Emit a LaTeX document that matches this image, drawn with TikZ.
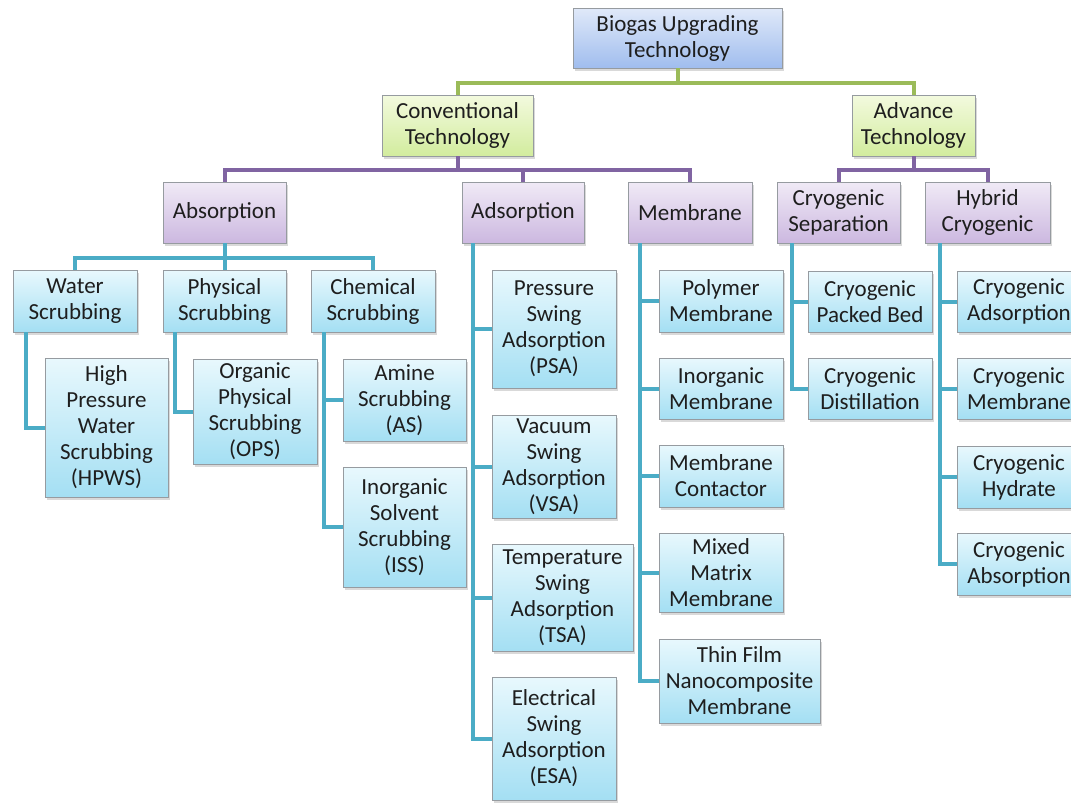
\documentclass[tikz,border=0pt]{standalone}
\usepackage{fontspec}
\setmainfont{Carlito}
\usetikzlibrary{calc,shadows}
\definecolor{RootTop}{RGB}{224,233,249}
\definecolor{RootBot}{RGB}{160,189,238}
\definecolor{GreenTop}{RGB}{243,250,222}
\definecolor{GreenBot}{RGB}{210,236,158}
\definecolor{PurpleTop}{RGB}{240,234,246}
\definecolor{PurpleBot}{RGB}{204,184,224}
\definecolor{TealTop}{RGB}{232,248,253}
\definecolor{TealBot}{RGB}{164,223,243}
\definecolor{BoxEdge}{RGB}{150,155,160}
\definecolor{TextDark}{RGB}{30,30,30}
\definecolor{OliveLine}{RGB}{155,187,89}
\definecolor{PlumLine}{RGB}{128,100,162}
\definecolor{AquaLine}{RGB}{75,172,198}

\begin{document}
\begin{tikzpicture}[x=1pt,y=-1pt,
    box/.style={draw=BoxEdge,line width=0.8pt,align=center,inner sep=0pt,
      text=TextDark,font=\fontsize{23}{26}\selectfont,
      drop shadow={shadow xshift=2pt,shadow yshift=-2.5pt,opacity=0.3}},
    wh/.style 2 args={minimum width=#1pt,minimum height=#2pt},
    rootbox/.style={box,top color=RootTop,bottom color=RootBot},
    greenbox/.style={box,top color=GreenTop,bottom color=GreenBot},
    purplebox/.style={box,top color=PurpleTop,bottom color=PurpleBot},
    tealbox/.style={box,top color=TealTop,bottom color=TealBot},
    greenlink/.style={OliveLine,line width=4pt},
    purplelink/.style={PlumLine,line width=4pt},
    teallink/.style={AquaLine,line width=4pt}]
  \useasboundingbox (0,0) rectangle (1071,803);
  \clip (0,0) rectangle (1071,803);
  % top levels
  \node[rootbox,wh={209}{60}] (root) at (677.5,38) {Biogas Upgrading\\Technology};
  \node[greenbox,wh={151}{61}] (conv) at (457.5,125.5) {Conventional\\Technology};
  \node[greenbox,wh={123}{61}] (adv) at (913.5,125.5) {Advance\\Technology};
  \node[purplebox,wh={123}{61}] (absn) at (224.5,212.5) {Absorption};
  \node[purplebox,wh={122}{61}] (adsn) at (523,212.5) {Adsorption};
  \node[purplebox,wh={124}{61}] (memb) at (690,212.5) {Membrane};
  \node[purplebox,wh={123}{61}] (cryosep) at (838.5,212.5) {Cryogenic\\Separation};
  \node[purplebox,wh={125}{61}] (hybrid) at (987.5,212.5) {Hybrid\\Cryogenic};
  % absorption branch
  \node[tealbox,wh={124}{62}] (water) at (75,301) {Water\\Scrubbing};
  \node[tealbox,wh={123}{62}] (physical) at (224.5,301) {Physical\\Scrubbing};
  \node[tealbox,wh={124}{62}] (chemical) at (373,301) {Chemical\\Scrubbing};
  \node[tealbox,wh={123}{139}] (hpws) at (106.5,427.5) {High\\Pressure\\Water\\Scrubbing\\(HPWS)};
  \node[tealbox,wh={124}{105}] (ops) at (255,411.5) {Organic\\Physical\\Scrubbing\\(OPS)};
  \node[tealbox,wh={123}{82}] (amine) at (404.5,400) {Amine\\Scrubbing\\(AS)};
  \node[tealbox,wh={123}{120}] (iss) at (404.5,527) {Inorganic\\Solvent\\Scrubbing\\(ISS)};
  % adsorption branch
  \node[tealbox,wh={124}{118}] (psa) at (554,329) {Pressure\\Swing\\Adsorption\\(PSA)};
  \node[tealbox,wh={124}{103}] (vsa) at (554,466.5) {Vacuum\\Swing\\Adsorption\\(VSA)};
  \node[tealbox,wh={141}{107}] (tsa) at (562.5,597.5) {Temperature\\Swing\\Adsorption\\(TSA)};
  \node[tealbox,wh={124}{123}] (esa) at (554,738.5) {Electrical\\Swing\\Adsorption\\(ESA)};
  % membrane branch
  \node[tealbox,wh={124}{62}] (polymer) at (721,301) {Polymer\\Membrane};
  \node[tealbox,wh={124}{61}] (inorgm) at (721,388.5) {Inorganic\\Membrane};
  \node[tealbox,wh={124}{62}] (contactor) at (721,476) {Membrane\\Contactor};
  \node[tealbox,wh={124}{79}] (mixed) at (721,572.5) {Mixed\\Matrix\\Membrane};
  \node[tealbox,wh={161}{84}] (thinfilm) at (739.5,681) {Thin Film\\Nanocomposite\\Membrane};
  % cryogenic branches
  \node[tealbox,wh={124}{61}] (packed) at (870,301.5) {Cryogenic\\Packed Bed};
  \node[tealbox,wh={124}{61}] (distil) at (870,388.5) {Cryogenic\\Distillation};
  \node[tealbox,wh={124}{61}] (cryads) at (1019,301.5) {Cryogenic\\Adsorption};
  \node[tealbox,wh={124}{61}] (cryomem) at (1019,388.5) {Cryogenic\\Membrane};
  \node[tealbox,wh={124}{62}] (hydrate) at (1019,477) {Cryogenic\\Hydrate};
  \node[tealbox,wh={124}{62}] (cryabs) at (1019,564) {Cryogenic\\Absorption};
  % connectors
  \foreach \c in {conv,adv}
    \draw[greenlink] (root.south) -- ++(0,15) -| (\c.north);
  \foreach \c in {absn,adsn,memb}
    \draw[purplelink] (conv.south) -- ++(0,14) -| (\c.north);
  \foreach \c in {cryosep,hybrid}
    \draw[purplelink] (adv.south) -- ++(0,14) -| (\c.north);
  \foreach \c in {water,physical,chemical}
    \draw[teallink] (absn.south) -- ++(0,15) -| (\c.north);
  \draw[teallink] ($(water.south west)+(13,0)$) |- (hpws.west);
  \draw[teallink] ($(physical.south west)+(12,0)$) |- (ops.west);
  \foreach \c in {amine,iss}
    \draw[teallink] ($(chemical.south west)+(13,0)$) |- (\c.west);
  \foreach \c in {psa,vsa,tsa,esa}
    \draw[teallink] ($(adsn.south west)+(11,0)$) |- (\c.west);
  \foreach \c in {polymer,inorgm,contactor,mixed,thinfilm}
    \draw[teallink] ($(memb.south west)+(12,0)$) |- (\c.west);
  \foreach \c in {packed,distil}
    \draw[teallink] ($(cryosep.south west)+(15,0)$) |- (\c.west);
  \foreach \c in {cryads,cryomem,hydrate,cryabs}
    \draw[teallink] ($(hybrid.south west)+(15,0)$) |- (\c.west);
\end{tikzpicture}
\end{document}
